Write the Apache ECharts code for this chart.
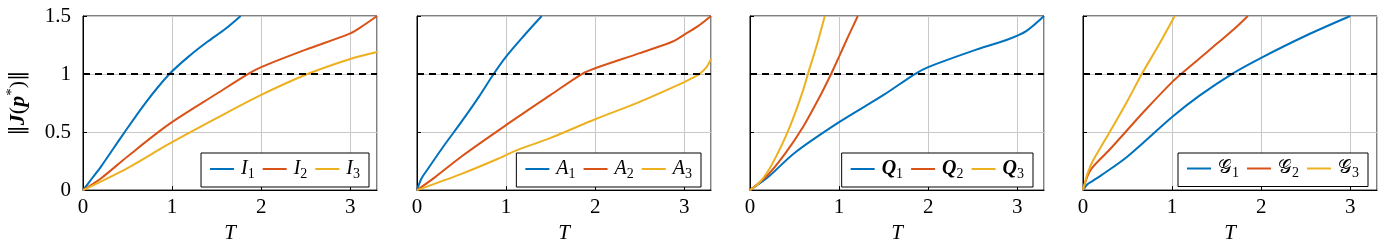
<!DOCTYPE html>
<html><head><meta charset="utf-8">
<script src="https://cdn.jsdelivr.net/npm/echarts@6/dist/echarts.min.js"></script>
<style>html,body{margin:0;padding:0;background:#fff}#c{width:1378px;height:249px}</style>
</head><body><div id="c"></div>
<script>
// ---- data (T, ||J(p*)||) ----
const X_MAX = 3.3;
const Y_MAX = 1.5;
const THRESHOLD = 1;

const I1 = [[0,0],[0.1,0.1],[0.2,0.2],[0.45,0.48],[0.7,0.75],[0.97,1.0],[1.2,1.16],[1.4,1.28],[1.6,1.39],[1.77,1.5]];
const I2 = [[0,0],[0.2,0.1],[0.5,0.29],[0.97,0.57],[1.5,0.83],[1.85,1.0],[2.0,1.06],[2.5,1.21],[3.0,1.35],[3.15,1.42],[3.3,1.5]];
const I3 = [[0,0],[0.5,0.19],[0.97,0.4],[1.5,0.62],[2.0,0.82],[2.52,1.0],[3.0,1.13],[3.3,1.19]];

const A1 = [[0,0],[0.05,0.1],[0.12,0.18],[0.3,0.38],[0.5,0.59],[0.7,0.81],[0.86,1.0],[1.0,1.15],[1.2,1.33],[1.4,1.5]];
const A2 = [[0,0],[0.2,0.11],[0.5,0.29],[1.0,0.56],[1.5,0.82],[1.85,1.0],[2.0,1.05],[2.5,1.18],[2.87,1.28],[3.0,1.34],[3.15,1.41],[3.3,1.5]];
const A3 = [[0,0],[0.5,0.14],[0.91,0.27],[1.11,0.34],[1.5,0.45],[2.0,0.61],[2.5,0.76],[3.0,0.93],[3.1,0.97],[3.17,1.0],[3.25,1.06],[3.3,1.13]];

const Q1 = [[0,0],[0.2,0.11],[0.5,0.32],[1.0,0.585],[1.5,0.82],[1.85,1.0],[2.0,1.06],[2.5,1.2],[2.9,1.3],[3.1,1.37],[3.3,1.5]];
const Q2 = [[0,0],[0.2,0.13],[0.4,0.32],[0.6,0.55],[0.8,0.83],[0.91,1.0],[1.0,1.15],[1.1,1.32],[1.21,1.5]];
const Q3 = [[0,0],[0.1,0.06],[0.2,0.16],[0.3,0.3],[0.4,0.46],[0.5,0.65],[0.6,0.87],[0.65,1.0],[0.75,1.25],[0.84,1.5]];

const G1 = [[0,0],[0.05,0.05],[0.11,0.08],[0.2,0.125],[0.5,0.29],[1.0,0.63],[1.3,0.81],[1.67,1.0],[2.0,1.14],[2.5,1.33],[3.0,1.5]];
const G2 = [[0,0],[0.05,0.12],[0.1,0.19],[0.3,0.35],[0.5,0.52],[0.7,0.69],[1.0,0.93],[1.1,1.0],[1.3,1.13],[1.5,1.26],[1.7,1.39],[1.85,1.5]];
const G3 = [[0,0],[0.05,0.14],[0.11,0.25],[0.3,0.5],[0.5,0.77],[0.66,1.0],[0.85,1.25],[1.03,1.5]];

const NAMES_I = ['I1','I2','I3'];
const NAMES_A = ['A1','A2','A3'];
const NAMES_Q = ['Q1','Q2','Q3'];
const NAMES_G = ['G1','G2','G3'];

// ---- layout / style ----
const COLORS = ['#0072BD','#D95319','#EDB120'];
const FONT = 'Liberation Serif';
const GRID_LEFT = [83, 417, 750, 1083];
const LEGEND_RIGHT = [1009, 677, 345, 10];
const PANELS = [
  {names: NAMES_I, data: [I1, I2, I3], sym: 'm'},
  {names: NAMES_A, data: [A1, A2, A3], sym: 'm'},
  {names: NAMES_Q, data: [Q1, Q2, Q3], sym: 'b'},
  {names: NAMES_G, data: [G1, G2, G3], sym: 'g'}
];
const richText = {
  m: {fontFamily: FONT, fontStyle: 'italic', fontSize: 20, lineHeight: 24, color: '#000', padding: [0,0,0,2]},
  b: {fontFamily: FONT, fontStyle: 'italic', fontWeight: 'bold', fontSize: 20, lineHeight: 24, color: '#000', padding: [0,0,0,2]},
  g: {fontFamily: FONT, fontSize: 19, lineHeight: 24, color: '#000', padding: [0,0,0,2]},
  s: {fontFamily: FONT, fontSize: 14, lineHeight: 10, verticalAlign: 'bottom', color: '#000'}
};

const grid = [], xAxis = [], yAxis = [], series = [], legend = [];
PANELS.forEach((p, i) => {
  grid.push({left: GRID_LEFT[i], top: 16, width: 294, height: 179, show: true,
    borderColor: '#000', borderWidth: 1, backgroundColor: 'transparent'});
  xAxis.push({gridIndex: i, type: 'value', min: 0, max: X_MAX, interval: 1,
    name: 'T', nameLocation: 'middle', nameGap: 27,
    nameTextStyle: {fontFamily: FONT, fontStyle: 'italic', fontSize: 21, color: '#000'},
    axisLine: {show: true, onZero: false, lineStyle: {color: '#000', width: 1}},
    axisTick: {show: true, inside: true, length: 4, lineStyle: {color: '#000'}},
    axisLabel: {margin: 7, fontFamily: FONT, fontSize: 21, color: '#000', showMaxLabel: false},
    splitLine: {show: true, lineStyle: {color: '#c8c8c8', width: 1}}});
  yAxis.push({gridIndex: i, type: 'value', min: 0, max: Y_MAX, interval: 0.5,
    name: i === 0 ? '{d|‖}{bi|J}{n|(}{bi|p}{sup|*}{n|)}{d|‖}' : '',
    nameLocation: 'middle', nameRotate: 90, nameGap: 52,
    nameTextStyle: {rich: {
      d: {fontFamily: 'DejaVu Serif', fontSize: 21, lineHeight: 26, color: '#000'},
      n: {fontFamily: FONT, fontSize: 22, lineHeight: 26, color: '#000'},
      bi: {fontFamily: FONT, fontStyle: 'italic', fontWeight: 'bold', fontSize: 22, lineHeight: 26, color: '#000'},
      sup: {fontFamily: FONT, fontSize: 15, lineHeight: 14, verticalAlign: 'top', color: '#000'}
    }},
    axisLine: {show: true, onZero: false, lineStyle: {color: '#000', width: 1}},
    axisTick: {show: true, inside: true, length: 4, lineStyle: {color: '#000'}},
    axisLabel: {show: i === 0, margin: 12, fontFamily: FONT, fontSize: 21, color: '#000'},
    splitLine: {show: true, lineStyle: {color: '#c8c8c8', width: 1}}});
  p.data.forEach((d, k) => {
    series.push({type: 'line', name: p.names[k], xAxisIndex: i, yAxisIndex: i, data: d,
      smooth: 0.3, showSymbol: false, clip: true, z: 3,
      lineStyle: {width: 2, color: COLORS[k]}, itemStyle: {color: COLORS[k]}});
  });
  series.push({type: 'line', name: 'thr' + i, xAxisIndex: i, yAxisIndex: i,
    data: [[0, THRESHOLD], [X_MAX, THRESHOLD]], showSymbol: false, silent: true, z: 4,
    lineStyle: {width: 2, color: '#000', type: [7, 5]}});
  legend.push({data: p.names, right: LEGEND_RIGHT[i], top: 153, orient: 'horizontal',
    icon: 'rect', itemWidth: 24, itemHeight: 2, itemGap: 8, padding: [6, 9, 6, 9],
    borderColor: '#000', borderWidth: 1, borderRadius: 0, backgroundColor: '#fff',
    selectedMode: false, z: 10,
    formatter: name => {
      const letter = p.sym === 'g' ? '𝒢' : name[0];
      return '{' + p.sym + '|' + letter + '}{s|' + name.slice(1) + '}';
    },
    textStyle: {fontFamily: FONT, rich: richText}});
});

const chart = echarts.init(document.getElementById('c'), null, {renderer: 'canvas'});
chart.setOption({animation: false, backgroundColor: '#fff', textStyle: {fontFamily: FONT},
  grid, xAxis, yAxis, series, legend});
</script></body></html>
